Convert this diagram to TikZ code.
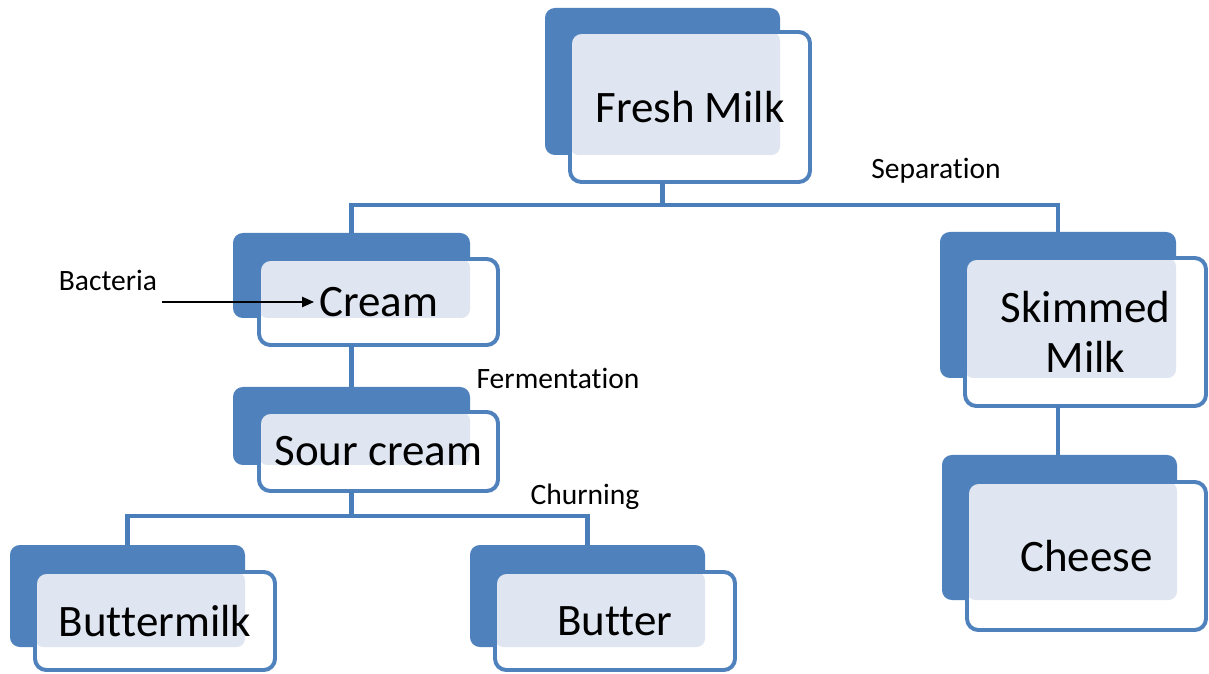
\documentclass[tikz,border=0pt]{standalone}
\usepackage{fontspec}
\setmainfont{Carlito}[Ligatures=NoCommon]
\usetikzlibrary{positioning,arrows.meta}
\definecolor{offblue}{HTML}{4F81BD}
\definecolor{linkblue}{HTML}{4A7EBB}
\definecolor{dotblue}{HTML}{DFE6F1}
\newcommand{\pxl}{0.025cm}
\tikzset{
  backbox/.style={fill=offblue, rounded corners=7pt, inner sep=0pt, outer sep=0pt},
  frontbox/.style={draw=offblue, line width=2.8pt, fill=white, rounded corners=8pt,
    inner sep=0pt, outer sep=0pt, align=center, font=\fontsize{32}{36}\selectfont,
    path picture={\fill[dotblue, rounded corners=6pt]
      (path picture bounding box.north west) rectangle (#1.south east);}},
  link/.style={draw=linkblue, line width=3pt},
  steplab/.style={font=\fontsize{21}{24}\selectfont, inner sep=0pt},
  arr/.style={-{Triangle[length=3mm,width=2.6mm]}, line width=1pt},
}

\begin{document}
\begin{tikzpicture}[x=0.025cm, y=-0.025cm]
  \useasboundingbox (0,0) rectangle (1209,674);
  % top
  \node[backbox, minimum width=235*\pxl, minimum height=147*\pxl] (milkb) at (662.5,81.5) {};
  \node[frontbox=milkb, minimum width=240*\pxl, minimum height=150*\pxl] (milk) at (690,107) {Fresh Milk};
  % cream side
  \node[backbox, minimum width=237*\pxl, minimum height=85*\pxl] (creamb) at (351.5,275.5) {};
  \node[frontbox=creamb, minimum width=239*\pxl, minimum height=86*\pxl] (cream) at (378.5,302) {Cream};
  \node[backbox, minimum width=237*\pxl, minimum height=78*\pxl] (sourb) at (351.5,426) {};
  \node[frontbox=sourb, minimum width=239*\pxl, minimum height=79*\pxl] (sour) at (378.5,451.5) {Sour cream};
  \node[backbox, minimum width=235*\pxl, minimum height=102*\pxl] (bmilkb) at (127.5,596) {};
  \node[frontbox=bmilkb, minimum width=240*\pxl, minimum height=98*\pxl] (bmilk) at (155,621) {Buttermilk};
  \node[backbox, minimum width=235*\pxl, minimum height=102*\pxl] (butterb) at (587.5,596) {};
  \node[frontbox=butterb, minimum width=240*\pxl, minimum height=98*\pxl] (butter) at (615,621) {Butter};
  % skimmed side
  \node[backbox, minimum width=236*\pxl, minimum height=146*\pxl] (skimb) at (1058,305) {};
  \node[frontbox=skimb, minimum width=241*\pxl, minimum height=148*\pxl] (skim) at (1085.5,332) {Skimmed\\Milk};
  \node[backbox, minimum width=235*\pxl, minimum height=145*\pxl] (cheeseb) at (1059.5,527.5) {};
  \node[frontbox=cheeseb, minimum width=239*\pxl, minimum height=148*\pxl] (cheese) at (1086.5,556) {Cheese};

  % connectors
  \draw[link] (milkb.south |- milk.south) -- ++(0,23) coordinate (milksplit);
  \draw[link] (creamb.north) |- (milksplit) -| (skimb.north);
  \draw[link] (creamb.south |- cream.south) -- (sourb.north);
  \draw[link] (sourb.south |- sour.south) -- ++(0,25) coordinate (soursplit);
  \draw[link] (bmilkb.north) |- (soursplit) -| (butterb.north);
  \draw[link] (skimb.south |- skim.south) -- (skimb.south |- cheeseb.north);

  % step labels
  \node[steplab] (seplab) at (936,171) {Separation};
  \node[steplab] (fermlab) at (558,378) {Fermentation};
  \node[steplab] (churnlab) at (585,497) {Churning};
  \node[steplab] (bactlab) at (108,280) {Bacteria};
  \coordinate (bacttail) at (162,302);
  \coordinate (bacthead) at (314,302);
  \draw[arr] (bacttail) -- (bacthead);
\end{tikzpicture}
\end{document}
